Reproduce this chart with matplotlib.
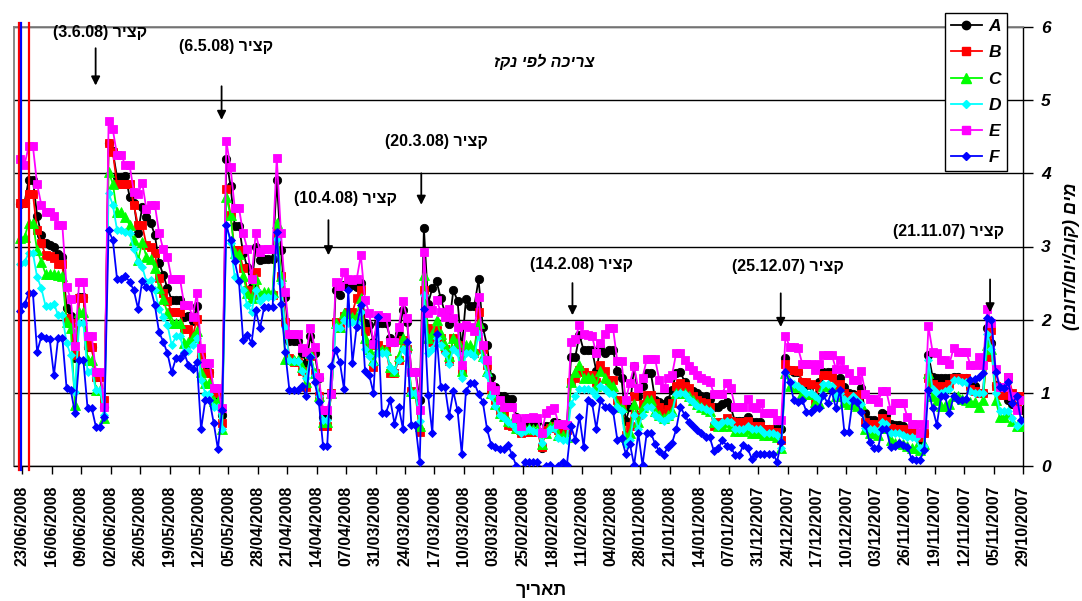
import numpy as np
import pandas as pd
import matplotlib
matplotlib.use("Agg")
import matplotlib.pyplot as plt
import matplotlib.dates as mdates
from matplotlib.lines import Line2D

plt.rcParams['font.family'] = ['Liberation Sans', 'DejaVu Sans']

# Daily water use (m3/day/dunam), newest first: 23/06/2008 back to 29/10/2007
A = [3.58, 3.6, 3.91, 3.91, 3.42, 3.16, 3.05, 3.02, 2.99, 2.9, 2.86, 2.16, 2.05, 1.47, 2.31, 2.31, 1.63, 1.63, 1.22, 1.22, 0.8,
     4.41, 4.3, 3.95, 3.95, 3.97, 3.68, 3.6, 3.19, 3.54, 3.4, 3.32, 3.16, 2.78, 2.61, 2.43, 2.27, 2.27, 2.27, 2.04, 2.05, 1.98, 2.18, 1.5, 1.29, 1.29, 1.0, 0.97, 0.7,
     4.19, 3.83, 3.28, 3.28, 2.91, 2.72, 2.45, 3.0, 2.81, 2.83, 2.83, 2.83, 3.91, 2.95, 2.31, 1.71, 1.71, 1.71,
     1.55, 1.41, 1.78, 1.54, 1.2, 0.67, 0.67, 1.0, 2.4, 2.34, 2.47, 2.47, 2.47, 2.45, 2.5,
     1.95, 1.93, 1.7, 1.95, 1.95, 1.95, 1.75, 1.7, 1.8, 2.13,
     1.97, 1.29, 1.29, 0.9, 3.25, 2.22, 2.43, 2.53, 2.29, 2.1,
     1.94, 2.4, 2.26, 1.6, 2.28, 2.19, 2.19, 2.55, 1.9, 1.65,
     1.22, 1.08, 0.95, 0.95, 0.91, 0.91, 0.67, 0.62, 0.59, 0.6,
     0.6, 0.6, 0.24, 0.54, 0.54, 0.6, 0.59, 0.56, 0.55, 1.49,
     1.49, 1.79, 1.58, 1.58, 1.58, 1.3, 1.63, 1.54, 1.58, 1.58,
     1.3, 1.2, 0.61, 0.81, 1.36, 0.95, 1.1, 1.27, 1.27, 0.9,
     0.88, 0.85, 0.9, 1.04, 1.27, 1.29, 1.15, 1.04, 1.02, 1.0,
     0.95, 0.95, 0.91, 0.81, 0.8,
     0.85, 0.87, 0.8, 0.61, 0.61, 0.61, 0.67, 0.6, 0.6, 0.6,
     0.51, 0.51, 0.51, 0.51, 0.5, 1.47, 1.31, 1.29, 1.29, 1.15,
     1.11, 1.11, 0.95, 1.15, 1.28, 1.28, 1.28, 1.15, 1.2, 1.08,
     1.0, 0.99, 0.95, 1.06, 0.72, 0.63, 0.63, 0.56, 0.72, 0.7,
     0.58, 0.56, 0.56, 0.54, 0.49, 0.45, 0.45, 0.36, 0.45, 1.52,
     1.22, 1.2, 1.2, 1.2, 1.2, 1.22, 1.22, 1.2, 1.2, 1.1,
     1.1, 1.0, 1.0, 1.88, 1.68, 1.11, 1.08, 1.08, 0.9, 0.85,
     0.8, 0.77]

B = [3.6, 3.6, 3.72, 3.72, 3.22, 3.05, 2.88, 2.87, 2.84, 2.76, 2.76, 2.02, 1.95, 1.52, 2.3, 2.3, 1.65, 1.63, 1.22, 1.22, 0.9,
     4.42, 4.29, 3.85, 3.85, 3.85, 3.85, 3.57, 3.29, 3.29, 3.02, 3.0, 2.91, 2.57, 2.37, 2.25, 2.1, 2.1, 2.1, 1.87, 1.87, 1.77, 2.01, 1.5, 1.27, 1.27, 1.0, 1.0, 0.59,
     3.78, 3.43, 2.95, 2.95, 2.7, 2.4, 2.34, 2.65, 2.34, 2.34, 2.34, 2.34, 3.2, 2.59, 1.97, 1.47, 1.42, 1.42,
     1.3, 1.08, 1.5, 1.27, 0.95, 0.54, 0.54, 1.0, 1.97, 1.88, 2.05, 2.1, 2.1, 2.3, 2.4,
     1.84, 1.65, 1.35, 1.65, 1.6, 1.6, 1.27, 1.27, 1.45, 1.72,
     1.6, 1.02, 0.98, 0.47, 2.4, 1.88, 1.7, 1.86, 1.75, 1.6,
     1.43, 1.75, 1.65, 1.3, 1.58, 1.58, 1.55, 2.11, 1.6, 1.38,
     1.05, 0.9, 0.75, 0.7, 0.56, 0.55, 0.5, 0.45, 0.47, 0.47,
     0.47, 0.47, 0.26, 0.49, 0.52, 0.55, 0.49, 0.49, 0.49, 1.15,
     1.2, 1.31, 1.28, 1.25, 1.25, 1.15, 1.38, 1.3, 1.17, 1.17,
     0.9, 0.85, 0.42, 0.55, 0.95, 0.7, 0.85, 0.97, 0.97, 0.86,
     0.8, 0.72, 0.78, 0.86, 1.1, 1.13, 1.1, 1.06, 0.95, 0.9,
     0.88, 0.86, 0.8, 0.54, 0.6,
     0.6, 0.65, 0.62, 0.6, 0.6, 0.6, 0.62, 0.55, 0.55, 0.55,
     0.5, 0.5, 0.46, 0.46, 0.35, 1.4, 1.31, 1.31, 1.3, 1.15,
     1.15, 1.12, 0.86, 1.1, 1.25, 1.25, 1.22, 1.1, 1.12, 1.0,
     0.95, 0.95, 0.92, 0.98, 0.6, 0.58, 0.58, 0.55, 0.65, 0.62,
     0.52, 0.5, 0.5, 0.5, 0.48, 0.45, 0.45, 0.4, 0.45, 1.2,
     1.12, 1.1, 1.08, 1.1, 1.12, 1.2, 1.2, 1.2, 1.2, 1.05,
     1.02, 1.0, 1.0, 1.49, 1.86, 1.1, 0.97, 0.97, 1.22, 1.0,
     0.81, 0.95]

C = [3.11, 3.13, 3.32, 3.32, 2.95, 2.79, 2.63, 2.63, 2.63, 2.61, 2.6, 1.97, 1.88, 0.83, 2.1, 2.1, 1.45, 1.45, 1.04, 1.04, 0.66,
     4.02, 3.86, 3.47, 3.47, 3.41, 3.29, 3.09, 2.81, 3.06, 2.86, 2.83, 2.7, 2.43, 2.28, 2.09, 1.95, 1.96, 1.96, 1.68, 1.69, 1.76, 1.85, 1.29, 1.14, 1.14, 0.89, 0.89, 0.51,
     3.68, 3.43, 2.91, 2.9, 2.6, 2.36, 2.3, 2.56, 2.35, 2.38, 2.38, 2.38, 3.32, 2.59, 1.46, 1.46, 1.45, 1.45,
     1.35, 1.15, 1.54, 1.27, 0.95, 0.6, 0.6, 1.0, 1.95, 1.9, 2.09, 2.05, 2.04, 2.05, 2.3,
     1.75, 1.6, 1.45, 1.6, 1.58, 1.58, 1.35, 1.3, 1.5, 1.75,
     1.65, 1.02, 1.0, 0.55, 2.61, 1.75, 1.8, 2.0, 1.8, 1.65,
     1.5, 1.75, 1.7, 1.3, 1.65, 1.65, 1.6, 1.95, 1.5, 1.3,
     1.0, 0.85, 0.72, 0.68, 0.62, 0.6, 0.52, 0.5, 0.5, 0.52,
     0.5, 0.5, 0.3, 0.45, 0.55, 0.55, 0.42, 0.42, 0.4, 1.15,
     1.28, 1.38, 1.2, 1.22, 1.2, 1.1, 1.3, 1.2, 1.12, 1.1,
     0.85, 0.8, 0.4, 0.45, 0.85, 0.6, 0.8, 0.9, 0.9, 0.75,
     0.7, 0.65, 0.7, 0.75, 1.0, 1.0, 1.0, 0.95, 0.9, 0.85,
     0.8, 0.78, 0.75, 0.6, 0.55,
     0.55, 0.6, 0.55, 0.48, 0.48, 0.48, 0.5, 0.45, 0.45, 0.45,
     0.42, 0.42, 0.42, 0.4, 0.24, 1.27, 1.1, 1.1, 1.08, 1.0,
     0.98, 0.98, 0.88, 0.86, 1.1, 1.1, 1.08, 0.95, 0.95, 0.88,
     0.85, 0.85, 0.82, 0.85, 0.5, 0.45, 0.45, 0.42, 0.55, 0.52,
     0.35, 0.32, 0.32, 0.3, 0.28, 0.24, 0.24, 0.22, 0.3, 1.27,
     0.95, 0.9, 0.82, 0.82, 0.85, 0.95, 0.95, 0.92, 0.9, 0.88,
     0.88, 0.8, 0.9, 1.65, 1.6, 0.9, 0.67, 0.67, 0.72, 0.62,
     0.54, 0.54]

D = [2.76, 2.79, 2.91, 2.91, 2.58, 2.43, 2.19, 2.19, 2.22, 2.06, 2.06, 1.68, 1.52, 1.01, 1.95, 1.95, 1.28, 1.3, 1.04, 1.04, 0.7,
     3.73, 3.57, 3.23, 3.23, 3.2, 3.18, 2.97, 2.79, 2.72, 2.52, 2.54, 2.4, 2.15, 2.04, 1.93, 1.65, 1.77, 1.77, 1.56, 1.57, 1.65, 1.75, 1.18, 0.99, 0.99, 0.81, 0.81, 0.5,
     3.3, 3.05, 2.58, 2.53, 2.4, 2.2, 2.1, 2.4, 2.26, 2.31, 2.31, 2.31, 3.1, 2.5, 1.9, 1.45, 1.44, 1.44,
     1.3, 1.2, 1.5, 1.25, 0.95, 0.63, 0.63, 1.0, 1.9, 1.88, 1.99, 1.95, 1.97, 1.95, 2.1,
     1.6, 1.5, 1.4, 1.55, 1.55, 1.55, 1.35, 1.3, 1.45, 1.6,
     1.55, 1.0, 1.0, 0.62, 2.34, 1.55, 1.6, 1.75, 1.65, 1.55,
     1.4, 1.6, 1.55, 1.2, 1.55, 1.55, 1.5, 1.8, 1.45, 1.25,
     0.95, 0.82, 0.7, 0.65, 0.6, 0.58, 0.5, 0.45, 0.48, 0.5,
     0.48, 0.47, 0.32, 0.45, 0.5, 0.52, 0.38, 0.36, 0.36, 0.85,
     0.95, 1.05, 1.05, 1.05, 1.02, 0.95, 1.1, 1.05, 1.0, 0.98,
     0.8, 0.75, 0.3, 0.35, 0.7, 0.5, 0.7, 0.8, 0.8, 0.7,
     0.65, 0.62, 0.65, 0.7, 0.98, 1.0, 0.98, 0.92, 0.88, 0.82,
     0.8, 0.78, 0.75, 0.6, 0.55,
     0.6, 0.62, 0.6, 0.5, 0.5, 0.5, 0.55, 0.5, 0.5, 0.5,
     0.45, 0.45, 0.45, 0.42, 0.25, 1.27, 1.15, 1.12, 1.1, 1.05,
     1.0, 1.0, 0.95, 0.92, 1.12, 1.12, 1.1, 0.95, 1.0, 0.92,
     0.9, 0.95, 0.9, 0.85, 0.52, 0.5, 0.5, 0.48, 0.6, 0.58,
     0.45, 0.45, 0.45, 0.42, 0.4, 0.4, 0.38, 0.25, 0.28, 1.45,
     1.05, 1.0, 1.0, 1.02, 1.05, 1.17, 1.17, 1.15, 1.15, 1.02,
     1.0, 1.0, 1.0, 1.81, 1.6, 1.0, 0.75, 0.75, 0.75, 0.65,
     0.55, 0.6]

E = [4.19, 4.12, 4.37, 4.37, 3.85, 3.57, 3.47, 3.47, 3.42, 3.29, 3.29, 2.45, 2.28, 1.64, 2.52, 2.52, 1.78, 1.78, 1.28, 1.28, 0.81,
     4.72, 4.6, 4.25, 4.25, 4.11, 4.11, 3.75, 3.72, 3.87, 3.51, 3.57, 3.57, 3.19, 2.96, 2.85, 2.55, 2.55, 2.55, 2.2, 2.2, 2.04, 2.36, 1.61, 1.41, 1.41, 1.06, 1.06, 0.79,
     4.44, 4.08, 3.53, 3.53, 3.18, 2.97, 2.56, 3.18, 2.93, 2.97, 2.97, 2.97, 4.21, 3.18, 2.38, 1.81, 1.81, 1.81,
     1.61, 1.56, 1.89, 1.63, 1.21, 0.77, 0.77, 0.99, 2.52, 2.46, 2.65, 2.55, 2.54, 2.55, 2.88,
     2.27, 2.09, 1.67, 2.06, 2.04, 2.04, 1.7, 1.7, 1.9, 2.25,
     2.02, 1.29, 1.29, 0.77, 2.93, 2.09, 2.13, 2.27, 2.11, 2.04,
     2.15, 2.02, 1.9, 1.38, 1.93, 1.9, 1.85, 2.31, 1.65, 1.45,
     1.1, 1.04, 0.9, 0.81, 0.81, 0.81, 0.65, 0.54, 0.65, 0.65,
     0.67, 0.65, 0.45, 0.72, 0.77, 0.79, 0.58, 0.58, 0.56, 1.7,
     1.74, 1.93, 1.81, 1.79, 1.77, 1.54, 1.68, 1.81, 1.88, 1.88,
     1.43, 1.43, 0.9, 1.14, 1.36, 1.06, 1.2, 1.46, 1.46, 1.46,
     1.17, 1.06, 1.2, 1.24, 1.54, 1.54, 1.45, 1.36, 1.31, 1.24,
     1.2, 1.17, 1.15, 0.99, 0.99,
     0.99, 1.14, 1.06, 0.81, 0.81, 0.81, 0.92, 0.81, 0.79, 0.86,
     0.72, 0.72, 0.72, 0.63, 0.63, 1.78, 1.63, 1.63, 1.61, 1.4,
     1.4, 1.4, 1.31, 1.4, 1.52, 1.52, 1.52, 1.33, 1.45, 1.33,
     1.27, 1.18, 1.18, 1.3, 0.99, 0.92, 0.92, 0.88, 1.02, 1.02,
     0.77, 0.86, 0.86, 0.86, 0.67, 0.58, 0.58, 0.45, 0.58, 1.91,
     1.56, 1.54, 1.45, 1.45, 1.4, 1.61, 1.56, 1.56, 1.56, 1.38,
     1.38, 1.49, 1.38, 2.15, 1.95, 1.33, 1.08, 1.08, 1.22, 0.95,
     0.77, 0.9]

F = [2.12, 2.21, 2.36, 2.36, 1.56, 1.77, 1.75, 1.73, 1.24, 1.75, 1.75, 1.07, 1.04, 0.72, 1.45, 1.45, 0.79, 0.79, 0.53, 0.53, 0.67,
     3.22, 3.09, 2.56, 2.56, 2.59, 2.52, 2.4, 2.15, 2.53, 2.44, 2.43, 2.2, 1.83, 1.7, 1.54, 1.28, 1.47, 1.47, 1.54, 1.38, 1.32, 1.42, 0.5, 0.9, 0.9, 0.59, 0.23, 0.77,
     3.29, 3.09, 2.8, 2.53, 1.72, 1.79, 1.68, 2.13, 1.88, 2.17, 2.17, 2.17, 3.2, 2.22, 1.56, 1.04, 1.04, 1.04,
     1.1, 0.95, 1.49, 1.15, 0.88, 0.28, 0.28, 1.37, 1.58, 1.42, 1.05, 2.4, 1.41, 1.9, 2.2,
     1.3, 1.24, 1.0, 2.04, 0.73, 0.73, 0.9, 0.58, 0.81, 0.51,
     1.7, 0.56, 0.56, 0.06, 2.15, 0.97, 0.45, 1.81, 1.08, 1.08,
     0.68, 1.02, 0.76, 0.17, 1.02, 1.13, 1.13, 0.99, 0.88, 0.51,
     0.29, 0.26, 0.23, 0.23, 0.29, 0.15, 0.0, -0.1, 0.06, 0.06,
     0.06, 0.06, -0.05, 0.0, 0.01, -0.05, 0.0, 0.05, 0.01, 0.54,
     0.36, 0.67, 0.26, 0.9, 0.86, 0.51, 0.9, 0.81, 0.8, 0.75,
     0.36, 0.38, 0.17, 0.3, 0.01, 0.45, 0.01, 0.45, 0.45, 0.3,
     0.2, 0.15, 0.26, 0.31, 0.5, 0.81, 0.7, 0.6, 0.54, 0.49,
     0.45, 0.39, 0.39, 0.2, 0.24,
     0.35, 0.28, 0.26, 0.15, 0.15, 0.29, 0.24, 0.1, 0.17, 0.17,
     0.17, 0.17, 0.17, 0.06, 0.33, 1.28, 1.15, 0.9, 0.88, 0.9,
     0.74, 0.74, 0.79, 0.79, 0.97, 0.86, 1.02, 0.79, 1.04, 0.47,
     0.47, 0.9, 0.88, 0.74, 0.56, 0.33, 0.24, 0.24, 0.51, 0.5,
     0.26, 0.28, 0.31, 0.29, 0.26, 0.1, 0.08, 0.08, 0.22, 1.04,
     0.79, 0.56, 0.95, 0.95, 0.72, 0.95, 0.9, 0.9, 0.92, 1.17,
     1.19, 1.22, 1.27, 2.02, 2.0, 1.28, 1.08, 1.06, 1.15, 0.86,
     0.95, 0.63]

series_names = ["A", "B", "C", "D", "E", "F"]
series_values = [A, B, C, D, E, F]

dates = pd.date_range(end="2008-06-23", periods=len(A))[::-1]
tick_dates = pd.date_range("2007-10-29", "2008-06-23", freq="7D")

# Harvest notes: (label, arrow date, label date, label y, arrow top, arrow tip)
harvests = [
    ("(3.6.08) ריצק", "2008-06-05 14:00", "2008-06-04 10:00", 5.92, 5.71, 5.20),
    ("(6.5.08) ריצק", "2008-05-06 15:00", "2008-05-05 11:00", 5.74, 5.19, 4.73),
    ("(10.4.08) ריצק", "2008-04-11 05:00", "2008-04-07 04:00", 3.66, 3.36, 2.88),
    ("(20.3.08) ריצק", "2008-03-20 03:00", "2008-03-16 13:00", 4.43, 4.00, 3.57),
    ("(14.2.08) ריצק", "2008-02-13 04:00", "2008-02-11 02:00", 2.75, 2.50, 2.06),
    ("(25.12.07) ריצק", "2007-12-25 15:00", "2007-12-23 22:00", 2.72, 2.36, 1.90),
    ("(21.11.07) ריצק", "2007-11-05 20:00", "2007-11-15 19:00", 3.20, 2.55, 2.10),
]

# Vertical traces at the newest end of the record
edge_traces = [("2008-06-23 22:00", "#ff0000"), ("2008-06-23 10:00", "#0000ff"),
               ("2008-06-21 09:00", "#ff0000")]

styles = {
    "A": dict(color="#000000", marker="o", ms=6.0),
    "B": dict(color="#ff0000", marker="s", ms=5.8),
    "C": dict(color="#00ff00", marker="^", ms=6.6),
    "D": dict(color="#00ffff", marker="D", ms=4.4),
    "E": dict(color="#ff00ff", marker="s", ms=5.8),
    "F": dict(color="#0000ff", marker="D", ms=4.4),
}

W, H = 1082, 601
fig = plt.figure(figsize=(W / 100, H / 100), dpi=100)
ax = fig.add_axes([14 / W, 1 - 466 / H, (1023 - 14) / W, (466 - 27) / H])

xpos = mdates.date2num(dates.to_pydatetime()) + 0.5
for name, vals in zip(series_names, series_values):
    st = styles[name]
    ax.plot(xpos, vals, color=st["color"], lw=1.3, marker=st["marker"], ms=st["ms"],
            mec=st["color"], mfc=st["color"], mew=0.6, zorder=3)

for d, col in edge_traces:
    xd = mdates.date2num(pd.Timestamp(d).to_pydatetime())
    ax.plot([xd, xd], [-0.06, 6.05], color=col, lw=1.6, clip_on=False, zorder=4)

# Axes limits: time runs right to left
ax.set_xlim(mdates.date2num(pd.Timestamp("2008-06-25").to_pydatetime()),
            mdates.date2num(pd.Timestamp("2007-10-29").to_pydatetime()))
ax.set_ylim(0, 6)

ax.set_xticks(mdates.date2num(tick_dates.to_pydatetime()))
ax.set_xticklabels([t.strftime("%d/%m/%Y") for t in tick_dates], rotation=90,
                   fontweight="bold", fontsize=11.5)
ax.tick_params(axis="x", direction="out", length=6, width=1, pad=8, colors="black")

ax.yaxis.tick_right()
ax.set_yticks(range(0, 7))
ax.set_yticklabels([str(v) for v in range(0, 7)], fontweight="bold", fontstyle="italic",
                   fontsize=12.5)
ax.tick_params(axis="y", direction="out", length=7, width=1, pad=6)

ax.grid(axis="y", color="black", lw=1.0, zorder=1)
ax.set_axisbelow(True)
for side in ("top", "left"):
    ax.spines[side].set_color("#808080")
    ax.spines[side].set_linewidth(1.3)
for side in ("bottom", "right"):
    ax.spines[side].set_color("black")
    ax.spines[side].set_linewidth(1.0)

# Axis titles
fig.text(541 / W, 1 - 591 / H, "ךיראת", ha="center", va="center",
         fontsize=13, fontweight="bold")
fig.text(1071 / W, 1 - 256 / H, "(םנוד/םוי/בוק) םימ", ha="center", va="center",
         rotation=90, fontsize=13, fontweight="bold", fontstyle="italic")

ax.text(0.525, 0.921, "זקנ יפל הכירצ", transform=ax.transAxes, ha="center", va="center",
        fontsize=11.5, fontweight="bold", fontstyle="italic")

for label, arrow_d, label_d, ly, top, tip in harvests:
    xa = mdates.date2num(pd.Timestamp(arrow_d).to_pydatetime())
    xl = mdates.date2num(pd.Timestamp(label_d).to_pydatetime())
    ax.annotate("", xy=(xa, tip), xytext=(xa, top),
                arrowprops=dict(arrowstyle="-|>", color="black", lw=1.3,
                                mutation_scale=13, shrinkA=0, shrinkB=0), zorder=5)
    ax.text(xl, ly, label, ha="center", va="center", fontsize=11.5,
            fontweight="bold", zorder=5)

# Legend
handles = [Line2D([0], [0], color=styles[n]["color"], lw=1.3, marker=styles[n]["marker"],
                  ms=styles[n]["ms"], mec=styles[n]["color"], mfc=styles[n]["color"])
           for n in series_names]
leg = fig.legend(handles, series_names, loc="upper left",
                 bbox_to_anchor=(945 / W, 1 - 13 / H), bbox_transform=fig.transFigure,
                 frameon=True, fancybox=False, edgecolor="black", framealpha=1,
                 prop=dict(weight="bold", style="italic", size=12.5),
                 handlelength=1.75, handletextpad=0.4, labelspacing=0.63,
                 borderpad=0.36, borderaxespad=0)
leg.get_frame().set_linewidth(1.0)

fig.savefig("out.png", dpi=100)
